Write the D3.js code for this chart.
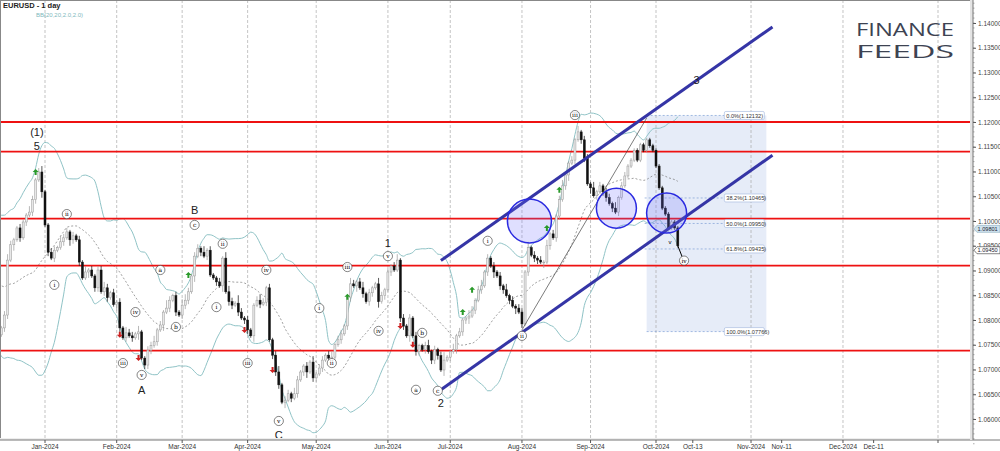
<!DOCTYPE html>
<html>
<head>
<meta charset="utf-8">
<script src="https://cdn.jsdelivr.net/npm/d3@7"></script>
<style>
  body { margin: 0; background: #fff; }
  svg { font-family: "Liberation Sans", Arial, sans-serif; }
</style>
</head>
<body>
<svg id="chart" width="1000" height="451"></svg>
<script>
// daily closes, first bar 2023-11-13 (first 20 bars sit left of the visible area)
var closes = [
  1.0700,1.0880,1.0850,1.0850,1.0910,1.0940,1.0910,1.0890,1.0905,1.0940,
  1.0955,1.0990,1.0970,1.0890,1.0885,1.0835,1.0795,1.0765,1.0790,1.0760,
  1.0770,1.0784,1.0810,1.0921,1.0952, 1.0962,1.0986,1.0966,1.0998,1.1012,
  1.1018,1.1043,1.1083,1.1099,1.1059,
  1.0992,1.0937,1.0925,1.0941,1.0946, 1.0958,1.0966,1.0978,1.0962,1.0970,
  1.0962,1.0917,1.0885,1.0897,1.0901, 1.0889,1.0865,1.0901,1.0857,1.0865,
  1.0845,1.0855,1.0831,1.0836,1.0784, 1.0764,1.0774,1.0768,1.0764,1.0772,
  1.0776,1.0723,1.0709,1.0739,1.0748, 1.0756,1.0780,1.0790,1.0816,1.0824,
  1.0840,1.0849,1.0816,1.0810,1.0830, 1.0840,1.0857,1.0889,1.0929,1.0945,
  1.0937,1.0929,1.0941,1.0891,1.0885, 1.0877,1.0869,1.0925,1.0857,1.0837,
  1.0830,1.0834,1.0816,1.0804,1.0800, 1.0780,1.0768,1.0830,1.0840,1.0832,
  1.0836,1.0865,1.0760,1.0729,1.0695, 1.0669,1.0634,1.0638,1.0651,1.0642,
  1.0651,1.0679,1.0695,1.0707,1.0695, 1.0715,1.0683,1.0691,1.0703,1.0719,
  1.0729,1.0723,1.0725,1.0750,1.0760, 1.0772,1.0788,1.0845,1.0873,1.0869,
  1.0877,1.0865,1.0853,1.0837,1.0855, 1.0865,1.0873,1.0837,1.0849,1.0861,
  1.0897,1.0909,1.0901,1.0921,1.0804, 1.0788,1.0768,1.0804,1.0768,1.0736,
  1.0748,1.0740,1.0748,1.0736,1.0719, 1.0740,1.0728,1.0699,1.0719,1.0725,
  1.0736,1.0740,1.0768,1.0776,1.0800, 1.0804,1.0808,1.0820,1.0840,1.0861,
  1.0869,1.0897,1.0925,1.0909,1.0897, 1.0889,1.0869,1.0861,1.0849,1.0840,
  1.0828,1.0824,1.0816,1.0792,1.0897, 1.0946,1.0931,1.0925,1.0921,1.0917,
  1.0917,1.0950,1.0974,1.0966,1.1010, 1.1043,1.1071,1.1093,1.1117,1.1123,
  1.1164,1.1180,1.1164,1.1127,1.1075, 1.1067,1.1051,1.1059,1.1071,1.1059,
  1.1047,1.1035,1.1026,1.1018,1.1047, 1.1071,1.1091,1.1111,1.1123,1.1143,
  1.1123,1.1154,1.1143,1.1164,1.1152, 1.1143,
  1.1111,1.1067,1.1026,1.1014, 1.0986,1.0998,1.0986,1.0950
];
// upper / lower wick length per bar, in units of 4 pips
var hiWick = "2121312122113212131221232112113212311221322121213121223212121322131122312142121332122131211213321421211232121231221321121312212312211321231211321212312121211231212411312113212312121213121221312121312123112131221312122131221";
var loWick = "1212212131221212211321221312121221312121121321211312212211321212131222121312121222131212112131221212213121212221312121231221213121212213121221312121122131221212221312121223121212131221213121212213121221231212213121221212";

var firstDay = "2023-11-13";
var origin = "2024-01-01";          // trading index 0
var futureStart = "2024-10-01", futureEnd = "2025-01-01";

var priceTicks = [1.06,1.065,1.07,1.075,1.08,1.085,1.09,1.095,1.10,1.105,1.11,1.115,1.12,1.125,1.13,1.135,1.14];
var monthTicks = ["2024-01-01","2024-02-01","2024-03-01","2024-04-01","2024-05-01","2024-06-01","2024-07-01",
                  "2024-08-01","2024-09-01","2024-10-01","2024-11-01","2024-12-01","2025-01-01"];
var monthLabels = ["Jan-2024","Feb-2024","Mar-2024","Apr-2024","May-2024","Jun-2024","Jul-2024",
                   "Aug-2024","Sep-2024","Oct-2024","Nov-2024","Dec-2024",""];
var minorTicks = ["2024-10-13","2024-11-11","2024-12-11"];
var minorLabels = ["Oct-13","Nov-11","Dec-11"];

var levels = [1.1200, 1.1140, 1.1005, 1.0910, 1.0738];

// channel lines and the thin trend line: [date, price]
var channelLow = [["2024-06-26",1.0659],["2024-11-08",1.1133]];
var channelHigh = [["2024-06-26",1.0920],["2024-11-08",1.1392]];
var thinLine = [["2024-08-01",1.0780],["2024-09-26",1.1208]];

// blue circles: trading index, price
var zones = [[155.4,1.1000,22],[183.3,1.1026,20],[199.4,1.1016,20]];

var fibStart = "2024-09-26", fibEnd = "2024-11-06";
var fibPct = ["0.0%","38.2%","50.0%","61.8%","100.0%"];
var fibVals = [1.12132,1.10465,1.09950,1.09435,1.07766];

// elliott labels: trading index, price, text
var waveCircled = [
  [7,1.1014,"ii"],[3,1.0871,"i"],[25,1.0713,"iii"],[29,1.0816,"iv"],[31,1.0689,"v"],
  [37,1.0901,"a"],[42,1.0786,"b"],[48,1.0992,"c"],[57,1.0954,"ii"],[55,1.0826,"i"],
  [65,1.0713,"iii"],[71,1.0901,"iv"],[75,1.0596,"v"],[88,1.0824,"i"],[92,1.0713,"ii"],
  [97,1.0907,"iii"],[107,1.0778,"iv"],[110,1.0929,"v"],[119,1.0659,"a"],[121,1.0774,"b"],
  [126,1.0657,"c"],[142,1.0960,"i"],[153,1.0768,"ii"],[170,1.1214,"iii"],[205,1.0920,"iv"]
];
var waveBig = [
  [-2.6,1.1180,"(1)"],[-2.6,1.1152,"5"],[31,1.0659,"A"],[48,1.1022,"B"],[75,1.0568,"C"],
  [110,1.0956,"1"],[127,1.0633,"2"],[209,1.1285,"3"]
];
var greenArrows = [[-3,1.1099],[46,1.0891],[97,1.0847],[134,1.0816],[137,1.0861],[161,1.0986],[165,1.1063]];
var redArrows = [[24,1.0770],[30,1.0723],[64,1.0780],[73,1.0699],[114,1.0788],[118,1.0750]];
var projection = [[203,1.0950],[205,1.0918]];

var bidPrice = 1.09801, askPrice = 1.09450;

// ---------- scales ----------
var parse = d3.utcParse("%Y-%m-%d");
var isWeekday = function(d) { var w = d.getUTCDay(); return w > 0 && w < 6; };
var dates = d3.utcDay.range(parse(firstDay), d3.utcDay.offset(parse(firstDay), 400)).filter(isWeekday).slice(0, closes.length);
var originIdx = dates.findIndex(function(d) { return +d === +parse(origin); });

var tScale = d3.scaleLinear().domain([0, 196]).range([45, 656]);
var futScale = d3.scaleUtc().domain([parse(futureStart), parse(futureEnd)]).range([656, 938]);
function xDate(s) {
  var d = parse(s);
  if (d > parse(futureStart)) return futScale(d);
  var n = d3.utcDay.range(parse(origin), d).filter(isWeekday).length;
  if (d < parse(origin)) n = -d3.utcDay.range(d, parse(origin)).filter(isWeekday).length;
  return tScale(n);
}
var y = d3.scaleLinear().domain([1.06, 1.14]).range([419, 23]);

var bars = closes.map(function(c, i) {
  var o = i ? closes[i - 1] : c;
  var h = Math.max(o, c) + (+(hiWick[i] || 1)) * 0.0004;
  var l = Math.min(o, c) - (+(loWick[i] || 1)) * 0.0004;
  return { t: i - originIdx, o: o, c: c, h: h, l: l };
});

var svg = d3.select("#chart");
var plotW = 973, plotH = 440;
svg.append("defs").append("clipPath").attr("id", "plot")
  .append("rect").attr("width", plotW).attr("height", plotH);
svg.append("defs").append("marker").attr("id", "arr").attr("viewBox", "0 0 10 10")
  .attr("refX", 8).attr("refY", 5).attr("markerWidth", 5).attr("markerHeight", 5).attr("orient", "auto")
  .append("path").attr("d", "M0,0L10,5L0,10z").attr("fill", "#000");

var g = svg.append("g").attr("clip-path", "url(#plot)");

// fib box first (background)
g.append("rect").attr("x", xDate(fibStart)).attr("y", y(fibVals[0]))
  .attr("width", xDate(fibEnd) - xDate(fibStart)).attr("height", y(fibVals[4]) - y(fibVals[0]))
  .attr("fill", "#e6ecf8");

// vertical grid
g.selectAll(".vg").data(monthTicks).join("line")
  .attr("x1", xDate).attr("x2", xDate).attr("y1", 0).attr("y2", plotH)
  .attr("stroke", "#aaa").attr("stroke-dasharray", "3,2").attr("stroke-width", 0.7);

// bollinger bands (20, 2)
var bb = [];
for (var i = 19; i < bars.length; i++) {
  var win = closes.slice(i - 19, i + 1), m = d3.mean(win), sd = d3.deviation(win) * Math.sqrt(19 / 20);
  bb.push({ t: bars[i].t, m: m, u: m + 2 * sd, l: m - 2 * sd });
}
var bbLine = function(k) { return d3.line().curve(d3.curveMonotoneX).x(function(d) { return tScale(d.t); }).y(function(d) { return y(d[k]); }); };
g.append("path").datum(bb).attr("d", bbLine("u")).attr("fill", "none").attr("stroke", "#8fc3c6");
g.append("path").datum(bb).attr("d", bbLine("l")).attr("fill", "none").attr("stroke", "#8fc3c6");
g.append("path").datum(bb).attr("d", bbLine("m")).attr("fill", "none").attr("stroke", "#777").attr("stroke-dasharray", "2,2").attr("stroke-width", 0.7);

// horizontal levels
g.selectAll(".lv").data(levels).join("line")
  .attr("x1", 0).attr("x2", plotW).attr("y1", y).attr("y2", y)
  .attr("stroke", "#ee1111").attr("stroke-width", 1.8);

// fib levels
g.selectAll(".fl").data(fibVals).join("line")
  .attr("x1", function(d, i) { return i === 0 || i === 4 ? xDate(fibStart) : xDate(fibStart) - 2; })
  .attr("x2", xDate(fibEnd) - 42).attr("y1", y).attr("y2", y)
  .attr("stroke", "#7e9fd6").attr("stroke-dasharray", "2,2").attr("stroke-width", 0.7);
var fl = g.selectAll(".flab").data(fibVals).join("g")
  .attr("transform", function(d) { return "translate(" + (xDate(fibEnd) - 42) + "," + y(d) + ")"; });
fl.append("rect").attr("x", 0).attr("y", -4).attr("width", 40).attr("height", 8).attr("rx", 1.5)
  .attr("fill", "#fff").attr("stroke", "#9db3dc").attr("stroke-width", 0.6);
fl.append("text").attr("x", 2).attr("y", 2.2).attr("font-size", 5.6).attr("fill", "#333")
  .text(function(d, i) { return fibPct[i] + "(" + d.toFixed(5) + ")"; });

// candles
var cw = 2;
var cg = g.selectAll(".cd").data(bars).join("g");
cg.append("line").attr("x1", function(d) { return tScale(d.t); }).attr("x2", function(d) { return tScale(d.t); })
  .attr("y1", function(d) { return y(d.h); }).attr("y2", function(d) { return y(d.l); })
  .attr("stroke", function(d) { return d.c >= d.o ? "#999" : "#111"; }).attr("stroke-width", 0.7);
cg.append("rect").attr("x", function(d) { return tScale(d.t) - cw / 2; })
  .attr("y", function(d) { return y(Math.max(d.o, d.c)); }).attr("width", cw)
  .attr("height", function(d) { return Math.max(0.8, Math.abs(y(d.o) - y(d.c))); })
  .attr("fill", function(d) { return d.c >= d.o ? "#e8e8e8" : "#111"; })
  .attr("stroke", function(d) { return d.c >= d.o ? "#999" : "#111"; }).attr("stroke-width", 0.5);

// trend lines
var ln = function(pts, color, w) {
  g.append("line").attr("x1", xDate(pts[0][0])).attr("y1", y(pts[0][1]))
    .attr("x2", xDate(pts[1][0])).attr("y2", y(pts[1][1])).attr("stroke", color).attr("stroke-width", w);
};
ln(thinLine, "#444", 0.7);
ln(channelLow, "#3535a6", 3);
ln(channelHigh, "#3535a6", 3);

// zones
g.selectAll(".zn").data(zones).join("circle")
  .attr("cx", function(d) { return tScale(d[0]); }).attr("cy", function(d) { return y(d[1]); }).attr("r", function(d) { return d[2]; })
  .attr("fill", "rgba(110,110,255,0.22)").attr("stroke", "#2a2ae0").attr("stroke-width", 1.5);

// signal arrows
g.selectAll(".ga").data(greenArrows).join("path")
  .attr("transform", function(d) { return "translate(" + tScale(d[0]) + "," + y(d[1]) + ")"; })
  .attr("d", "M0,-3L3,0L1,0L1,3L-1,3L-1,0L-3,0Z").attr("fill", "#2a9a2a");
g.selectAll(".ra").data(redArrows).join("path")
  .attr("transform", function(d) { return "translate(" + tScale(d[0]) + "," + y(d[1]) + ")"; })
  .attr("d", "M0,3L3,0L1,0L1,-3L-1,-3L-1,0L-3,0Z").attr("fill", "#cc2222");

// projection arrow
g.append("line").attr("x1", tScale(projection[0][0])).attr("y1", y(projection[0][1]))
  .attr("x2", tScale(projection[1][0])).attr("y2", y(projection[1][1]))
  .attr("stroke", "#000").attr("stroke-width", 1).attr("marker-end", "url(#arr)");

// wave labels
var wc = g.selectAll(".wc").data(waveCircled).join("g")
  .attr("transform", function(d) { return "translate(" + tScale(d[0]) + "," + y(d[1]) + ")"; });
wc.append("circle").attr("r", 4.6).attr("fill", "#fff").attr("stroke", "#333").attr("stroke-width", 0.6);
wc.append("text").attr("text-anchor", "middle").attr("y", 2).attr("font-size", 6)
  .attr("font-family", "DejaVu Serif, serif").text(function(d) { return d[2]; });
g.selectAll(".wb").data(waveBig).join("text")
  .attr("x", function(d) { return tScale(d[0]); }).attr("y", function(d) { return y(d[1]) + 4; })
  .attr("text-anchor", "middle").attr("font-size", 11).attr("fill", "#222").text(function(d) { return d[2]; });
g.append("text").attr("x", tScale(200.5)).attr("y", y(1.0954)).attr("font-size", 6).attr("text-anchor", "middle").text("v");

// logo
var logo = svg.append("g").attr("fill", "#3d4352").attr("font-family", "Open Sans, sans-serif").attr("font-size", 19);
logo.append("text").attr("x", 856).attr("y", 36).attr("textLength", 98).attr("lengthAdjust", "spacingAndGlyphs").text("FINANCE");
logo.append("text").attr("x", 856).attr("y", 58).attr("textLength", 98).attr("lengthAdjust", "spacingAndGlyphs").text("FEEDS");

// title
svg.append("text").attr("x", 3).attr("y", 8).attr("font-size", 7.5).attr("font-weight", "bold").attr("fill", "#222").text("EURUSD - 1 day");
svg.append("text").attr("x", 36).attr("y", 17).attr("font-size", 6).attr("fill", "#7fb9bd").text("BB(20,20,2.0,2.0)");

// frames
svg.append("line").attr("x1", 0).attr("x2", plotW).attr("y1", 0.5).attr("y2", 0.5).attr("stroke", "#888");
svg.append("line").attr("x1", 0.5).attr("x2", 0.5).attr("y1", 0).attr("y2", plotH).attr("stroke", "#888");
svg.append("rect").attr("x", 0).attr("y", plotH - 2).attr("width", plotW).attr("height", 2).attr("fill", "#eee");
svg.append("line").attr("x1", 0).attr("x2", 1000).attr("y1", plotH).attr("y2", plotH).attr("stroke", "#777");
svg.append("rect").attr("x", plotW - 3).attr("y", 0).attr("width", 3).attr("height", plotH).attr("fill", "#e4e4e4");
svg.append("line").attr("x1", plotW).attr("x2", plotW).attr("y1", 0).attr("y2", plotH).attr("stroke", "#777");

// y axis
var yAxis = d3.axisRight(y).tickValues(priceTicks).tickFormat(d3.format(".5f")).tickSize(3);
var ya = svg.append("g").attr("transform", "translate(" + plotW + ",0)").call(yAxis);
ya.select(".domain").remove();
ya.selectAll("text").attr("font-size", 6.5).attr("fill", "#444").attr("x", 5);
ya.selectAll("line").attr("stroke", "#555");
var minorY = d3.range(1.055, 1.1451, 0.001);
svg.append("g").selectAll("line").data(minorY).join("line")
  .attr("x1", plotW).attr("x2", plotW + 1.5).attr("y1", y).attr("y2", y).attr("stroke", "#777").attr("stroke-width", 0.6);

// price tags
var tag = function(p, fill, stroke, dy) {
  var t = svg.append("g").attr("transform", "translate(" + (plotW + 1) + "," + (y(p) + dy) + ")");
  t.append("path").attr("d", "M0,0L3,-3.5L26,-3.5L26,3.5L3,3.5Z").attr("fill", fill).attr("stroke", stroke).attr("stroke-width", 0.6);
  t.append("text").attr("x", 3.5).attr("y", 2).attr("font-size", 5.6).attr("fill", "#223").text(p.toFixed(5));
};
tag(bidPrice, "#cfe2ee", "#8ab", -2);
tag(askPrice, "#fff", "#333", 2);

// x axis
var xa = svg.append("g");
xa.selectAll(".mt").data(monthTicks).join("line")
  .attr("x1", xDate).attr("x2", xDate).attr("y1", plotH).attr("y2", plotH + 3).attr("stroke", "#555");
xa.selectAll(".ml").data(monthTicks).join("text")
  .attr("x", xDate).attr("y", plotH + 9).attr("text-anchor", "middle").attr("font-size", 6.5).attr("fill", "#333")
  .text(function(d, i) { return monthLabels[i]; });
xa.selectAll(".nt").data(minorTicks).join("line")
  .attr("x1", xDate).attr("x2", xDate).attr("y1", plotH).attr("y2", plotH + 3).attr("stroke", "#555");
xa.selectAll(".nl").data(minorTicks).join("text")
  .attr("x", xDate).attr("y", plotH + 9).attr("text-anchor", "middle").attr("font-size", 6.5).attr("fill", "#333")
  .text(function(d, i) { return minorLabels[i]; });
</script>
</body>
</html>
